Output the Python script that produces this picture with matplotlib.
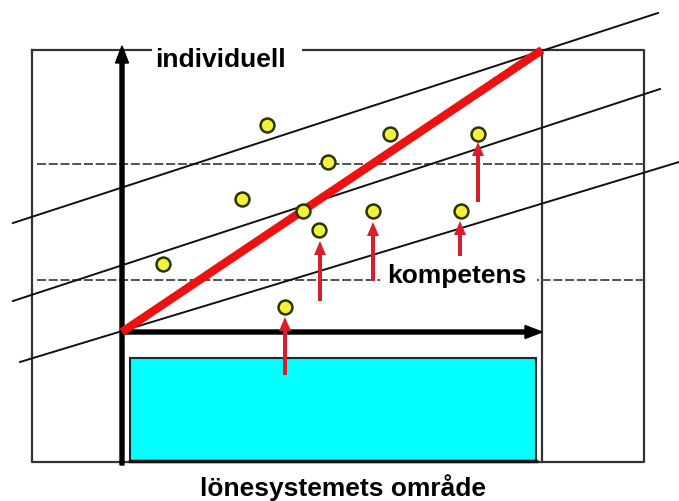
#!/usr/bin/env python3
import matplotlib
matplotlib.use('Agg')
import matplotlib.pyplot as plt
from matplotlib.patches import Rectangle

plt.rcParams['font.family'] = ['Liberation Sans', 'DejaVu Sans']

# Diagram i pixelkoordinater (y nedåt)
W, H = 679, 502

# Ram och områden
ram = (32, 51, 644, 463)            # vänster, topp, höger, botten
inre_x = 542
lonesystem = (130, 359, 536, 462)   # cyan rektangel
streckade_y = [165, 281]

# Parallella lönelinjer (start, slut)
linjer = [((13, 224), (658, 14)),
          ((13, 302), (660, 90)),
          ((20, 363), (679, 163))]

# Röd lönelinje
rod_x = [122, 542]
rod_y = [333, 51]

# Individer (gula punkter)
punkt_x = [267, 328, 390, 478, 242, 303, 319, 373, 461, 163, 285]
punkt_y = [126, 163, 135, 135, 200, 212, 231, 212, 212, 265, 308]

# Röda pilar: x, start (nedre), spets (övre)
pil_x = [285, 320, 373, 460, 478]
pil_fran = [376, 302, 282, 257, 203]
pil_till = [318, 242, 223, 222, 143]

texter = ['individuell', 'kompetens', 'lönesystemets område']


def rita():
    fig = plt.figure(figsize=(W / 100, H / 100), dpi=100)
    ax = fig.add_axes([0, 0, 1, 1])
    ax.set_xlim(0, W)
    ax.set_ylim(H, 0)
    ax.axis('off')

    # Yttre ram
    v, t, h, b = ram
    ax.plot([v, h, h, v, v], [t, t, b, b, t], color='#333333', lw=1.6, zorder=1)
    ax.plot([inre_x, inre_x], [t, b], color='#333333', lw=1.6, zorder=1)

    # Cyan område
    lv, lt, lh, lb = lonesystem
    ax.add_patch(Rectangle((lv, lt), lh - lv, lb - lt, facecolor='#00ffff',
                           edgecolor='#1a2a2a', lw=1.5, zorder=2))
    ax.plot([lv, lh], [lb, lb], color='#111111', lw=2.5, zorder=2)

    # Streckade nivålinjer
    for y in streckade_y:
        ax.plot([37, 647], [y, y], color='#444444', lw=1.3,
                dashes=(5, 1.5), zorder=2)

    # Lönelinjer
    for (x0, y0), (x1, y1) in linjer:
        ax.plot([x0, x1], [y0, y1], color='#111111', lw=1.4, zorder=3)

    # Axlar
    ax.arrow(122, 466, 0, -419, width=4, head_width=13, head_length=17,
             length_includes_head=True, color='black', zorder=4)
    ax.arrow(122, 333, 420, 0, width=4, head_width=13, head_length=17,
             length_includes_head=True, color='black', zorder=4)

    # Röd linje
    ax.plot(rod_x, rod_y, color='#ee1111', lw=6, solid_capstyle='butt', zorder=5)

    # Röda pilar
    for x, y0, y1 in zip(pil_x, pil_fran, pil_till):
        ax.arrow(x, y0, 0, y1 - y0, width=4, head_width=12, head_length=14,
                 length_includes_head=True, color='#d81e2a', lw=0, zorder=6)

    # Punkter
    ax.scatter(punkt_x, punkt_y, s=100, facecolor='#f2f23a',
               edgecolor='#2e3300', linewidth=1.8, zorder=7)

    # Vita textrutor
    ax.add_patch(Rectangle((152, 38), 150, 37, facecolor='white',
                           edgecolor='none', zorder=8))
    ax.add_patch(Rectangle((380, 258), 157, 40, facecolor='white',
                           edgecolor='none', zorder=8))

    ax.text(220, 67, texter[0], fontsize=19, fontweight='bold',
            ha='center', va='baseline', zorder=9)
    ax.text(457, 283, texter[1], fontsize=19, fontweight='bold',
            ha='center', va='baseline', zorder=9)
    ax.text(343, 496, texter[2], fontsize=19, fontweight='bold',
            ha='center', va='baseline', zorder=9)

    fig.savefig('out.png', dpi=100)
    plt.close(fig)


if __name__ == "__main__":
    rita()
